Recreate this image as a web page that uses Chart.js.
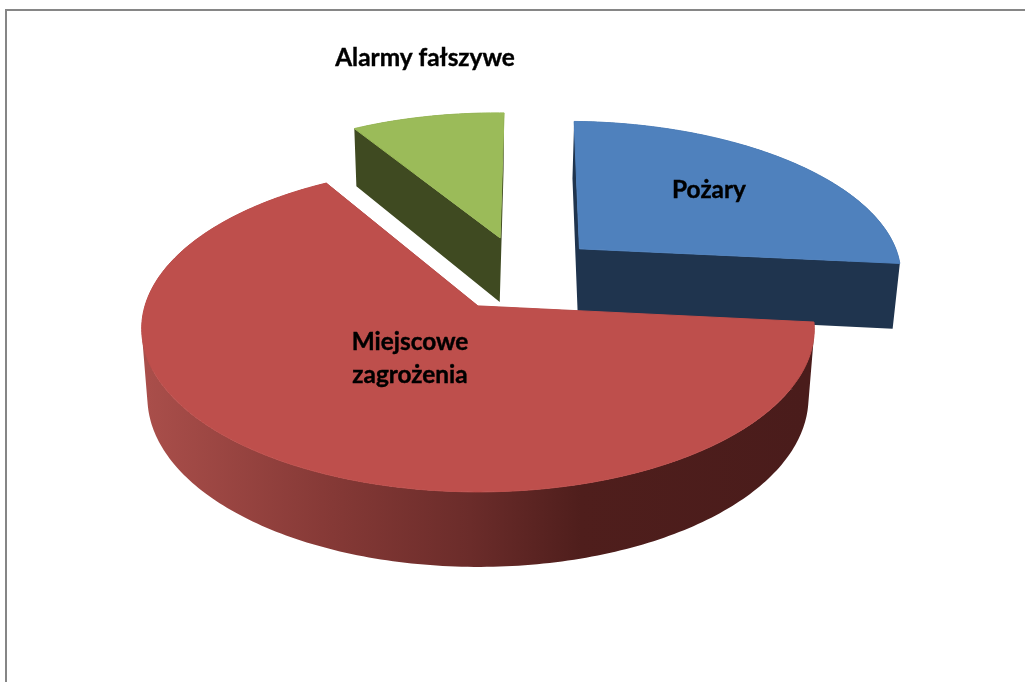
<!DOCTYPE html>
<html>
<head>
<meta charset="utf-8">
<style>html,body{margin:0;padding:0;background:#fff}canvas{display:block}</style>
<script src="https://cdn.jsdelivr.net/npm/chart.js@4/dist/chart.umd.js"></script>
</head>
<body>
<canvas id="c" width="1025" height="682"></canvas>
<script>
const categories = ['Pożary', 'Miejscowe zagrożenia', 'Alarmy fałszywe'];
const values = [26.2, 64.9, 8.9];
const topColors = ['#4f81bd', '#be4f4c', '#9bbb59'];
const sideColors = ['#1f344e', '#4a1c1b', '#3f4a21'];
const labelAnchors = [[709, 190], [410, 358], [425, 58]];
const drawOrder = [2, 0, 1];
const startRotation = 1.4;

// Perspective view of the pie plane
const view = {cx: 476, y0: 306, a: 333, b: 160, k: 0.14, shrink: 0.983, d0: 67.5, d1: 7.5, pivotU: 0.14, pivotV: -0.211};
function project(u, v, low) {
  const w = 1 - view.k * v;
  let x = view.cx + view.a * u / w;
  let y = view.y0 + view.b * v / w;
  if (low) { x = view.cx + (x - view.cx) * view.shrink; y += view.d0 + view.d1 * v; }
  return [x, y];
}
function pathOf(ctx, pts) {
  ctx.beginPath();
  pts.forEach((p, i) => i ? ctx.lineTo(p[0], p[1]) : ctx.moveTo(p[0], p[1]));
  ctx.closePath();
}
function addQuad(ctx, q) {
  let area = 0;
  q.forEach((p, i) => { const r = q[(i + 1) % 4]; area += p[0] * r[1] - r[0] * p[1]; });
  const pts = area < 0 ? q.slice().reverse() : q;
  ctx.moveTo(pts[0][0], pts[0][1]);
  for (let i = 1; i < 4; i++) ctx.lineTo(pts[i][0], pts[i][1]);
  ctx.closePath();
}
const pie3d = {
  id: 'pie3d',
  beforeDraw(chart) {
    const ctx = chart.ctx;
    ctx.save();
    ctx.fillStyle = '#fff';
    ctx.fillRect(0, 0, chart.width, chart.height);
    ctx.strokeStyle = '#868686';
    ctx.lineWidth = 2;
    ctx.beginPath();
    ctx.moveTo(6, chart.height + 2);
    ctx.lineTo(6, 10);
    ctx.lineTo(chart.width + 2, 10);
    ctx.stroke();
    ctx.restore();
  },
  beforeDatasetsDraw(chart) {
    const ctx = chart.ctx;
    const arcs = chart.getDatasetMeta(0).data;
    drawOrder.forEach(i => {
      const arc = arcs[i];
      const R = arc.outerRadius;
      const e = (arc.options.offset / 4) / R;
      const s = arc.startAngle, t = arc.endAngle, mid = (s + t) / 2;
      const au = e * Math.cos(mid) + view.pivotU, av = e * Math.sin(mid) + view.pivotV;
      const topRim = [], lowRim = [];
      const n = Math.max(8, Math.round((t - s) * 60));
      for (let j = 0; j <= n; j++) {
        const ang = s + (t - s) * j / n;
        const u = au + Math.cos(ang), v = av + Math.sin(ang);
        topRim.push(project(u, v, false));
        lowRim.push(project(u, v, true));
      }
      const topApex = project(au, av, false), lowApex = project(au, av, true);
      let side = sideColors[i];
      if (i === 1) {
        const g = ctx.createLinearGradient(148, 0, 805, 0);
        g.addColorStop(0, '#a94e4a');
        g.addColorStop(0.28, '#853936');
        g.addColorStop(0.49, '#6b2c2a');
        g.addColorStop(0.66, '#4f1e1c');
        g.addColorStop(1, '#4a1c1b');
        side = g;
      }
      ctx.save();
      ctx.fillStyle = side;
      ctx.beginPath();
      for (let j = 0; j < n; j++) {
        addQuad(ctx, [topRim[j], topRim[j + 1], lowRim[j + 1], lowRim[j]]);
      }
      addQuad(ctx, [topApex, topRim[0], lowRim[0], lowApex]);
      addQuad(ctx, [topApex, topRim[n], lowRim[n], lowApex]);
      ctx.fill('nonzero');
      ctx.fillStyle = arc.options.backgroundColor;
      ctx.strokeStyle = arc.options.backgroundColor;
      ctx.lineWidth = 1;
      ctx.lineJoin = 'round';
      pathOf(ctx, [topApex].concat(topRim));
      ctx.fill();
      ctx.stroke();
      ctx.restore();
    });
    return false;
  },
  afterDraw(chart) {
    const ctx = chart.ctx;
    ctx.save();
    ctx.fillStyle = '#000';
    ctx.strokeStyle = '#000';
    ctx.lineWidth = 0.4;
    ctx.font = 'bold 24.4px Lato';
    ctx.textAlign = 'center';
    ctx.textBaseline = 'middle';
    const put = (text, x, y) => { ctx.fillText(text, x, y); ctx.strokeText(text, x, y); };
    chart.data.labels.forEach((name, i) => {
      const [x, y] = labelAnchors[i];
      if (i === 1) {
        name.split(' ').forEach((part, j) => put(part, x, y - 16 + j * 33));
      } else {
        put(name, x, y);
      }
    });
    ctx.restore();
  }
};
new Chart(document.getElementById('c'), {
  type: 'pie',
  data: {
    labels: categories,
    datasets: [{data: values, backgroundColor: topColors, borderWidth: 0, offset: 227}]
  },
  options: {
    responsive: false,
    animation: false,
    events: [],
    rotation: startRotation,
    plugins: {legend: {display: false}, tooltip: {enabled: false}}
  },
  plugins: [pie3d]
});
</script>
</body>
</html>
